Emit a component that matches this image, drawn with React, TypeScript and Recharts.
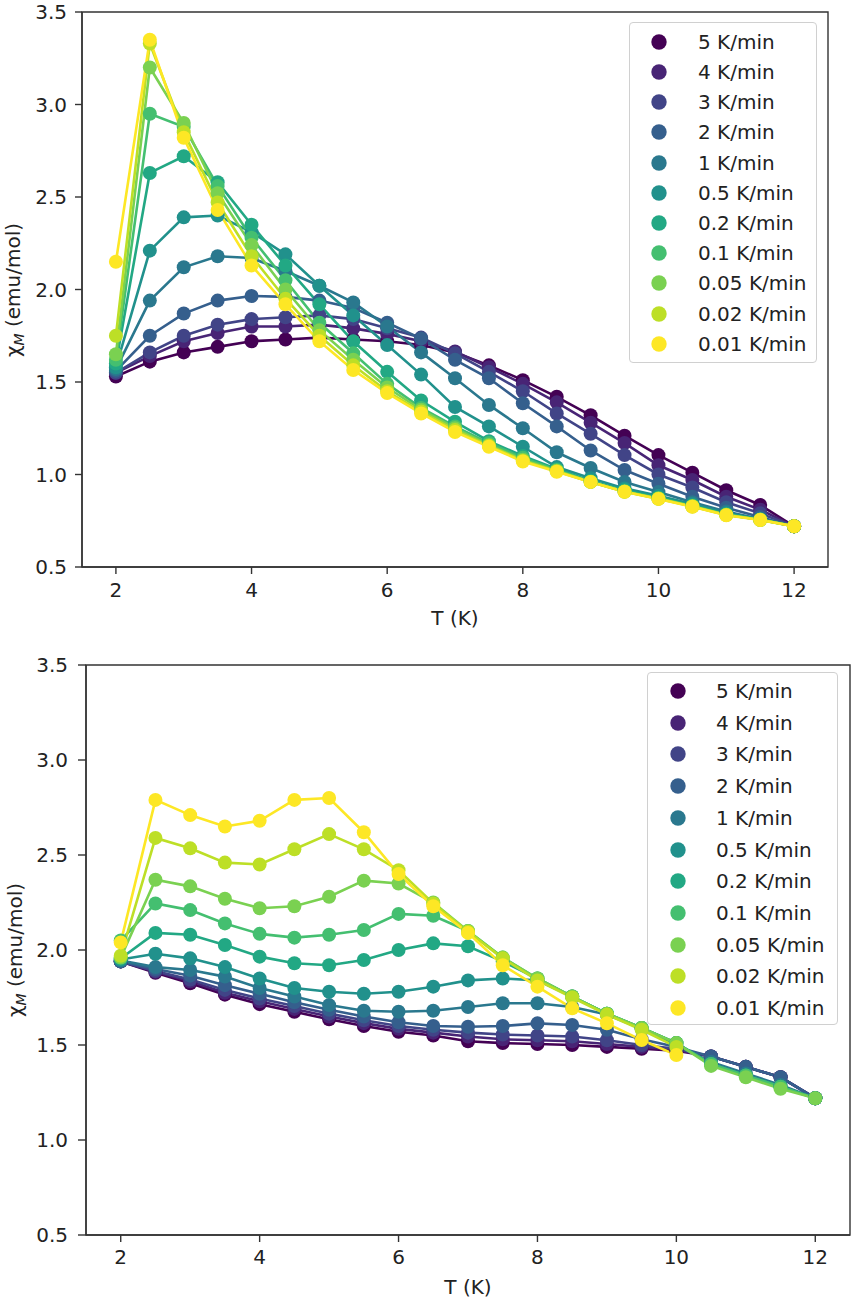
import React from 'react';
import { LineChart, Line, XAxis, YAxis, ReferenceArea } from 'recharts';

const temps = [2, 2.5, 3, 3.5, 4, 4.5, 5, 5.5, 6, 6.5, 7, 7.5, 8, 8.5, 9, 9.5, 10, 10.5, 11, 11.5, 12];
const rateLabels = ['5 K/min', '4 K/min', '3 K/min', '2 K/min', '1 K/min', '0.5 K/min', '0.2 K/min', '0.1 K/min', '0.05 K/min', '0.02 K/min', '0.01 K/min'];
const viridis = ['#440154', '#482475', '#414487', '#355f8d', '#2a788e', '#21918c', '#22a884', '#44bf70', '#7ad151', '#bddf26', '#fde725'];
const xTicks = [2, 4, 6, 8, 10, 12];
const yTicks = [0.5, 1.0, 1.5, 2.0, 2.5, 3.0, 3.5];

// Top panel
const topR5 = [1.53, 1.61, 1.66, 1.69, 1.72, 1.73, 1.74, 1.73, 1.72, 1.70, 1.66, 1.59, 1.51, 1.42, 1.32, 1.21, 1.105, 1.01, 0.915, 0.835, 0.72];
const topR4 = [1.55, 1.64, 1.72, 1.765, 1.80, 1.80, 1.81, 1.79, 1.76, 1.72, 1.665, 1.58, 1.49, 1.39, 1.28, 1.17, 1.05, 0.97, 0.88, 0.81, 0.72];
const topR3 = [1.55, 1.66, 1.75, 1.81, 1.84, 1.85, 1.86, 1.84, 1.79, 1.74, 1.655, 1.555, 1.45, 1.33, 1.22, 1.105, 1.00, 0.93, 0.85, 0.79, 0.72];
const topR2 = [1.56, 1.75, 1.87, 1.94, 1.965, 1.96, 1.94, 1.90, 1.82, 1.735, 1.62, 1.52, 1.385, 1.26, 1.13, 1.024, 0.95, 0.88, 0.82, 0.77, 0.72];
const topR1 = [1.57, 1.94, 2.12, 2.18, 2.17, 2.10, 2.02, 1.93, 1.80, 1.66, 1.52, 1.376, 1.25, 1.12, 1.035, 0.96, 0.905, 0.85, 0.80, 0.76, 0.72];
const topR05 = [1.58, 2.21, 2.39, 2.40, 2.31, 2.19, 2.02, 1.86, 1.70, 1.54, 1.365, 1.26, 1.15, 1.04, 0.98, 0.925, 0.885, 0.84, 0.79, 0.758, 0.72];
const topR02 = [1.60, 2.63, 2.72, 2.58, 2.35, 2.13, 1.92, 1.72, 1.555, 1.40, 1.285, 1.18, 1.10, 1.03, 0.965, 0.915, 0.875, 0.832, 0.785, 0.756, 0.72];
const topR01 = [1.62, 2.95, 2.88, 2.56, 2.28, 2.05, 1.82, 1.655, 1.49, 1.36, 1.26, 1.17, 1.09, 1.025, 0.962, 0.91, 0.872, 0.83, 0.783, 0.755, 0.72];
const topR005 = [1.65, 3.20, 2.90, 2.52, 2.24, 2.00, 1.78, 1.62, 1.47, 1.35, 1.25, 1.16, 1.08, 1.02, 0.96, 0.908, 0.87, 0.828, 0.782, 0.755, 0.72];
const topR002 = [1.75, 3.33, 2.85, 2.47, 2.18, 1.95, 1.75, 1.59, 1.45, 1.34, 1.24, 1.155, 1.075, 1.018, 0.96, 0.907, 0.869, 0.827, 0.781, 0.755, 0.72];
const topR001 = [2.15, 3.35, 2.82, 2.43, 2.13, 1.92, 1.72, 1.565, 1.44, 1.33, 1.23, 1.15, 1.07, 1.015, 0.96, 0.907, 0.868, 0.826, 0.78, 0.754, 0.72];

// Bottom panel
const botR5 = [1.94, 1.88, 1.825, 1.765, 1.715, 1.675, 1.635, 1.60, 1.57, 1.55, 1.52, 1.51, 1.505, 1.50, 1.49, 1.48, 1.47, 1.44, 1.385, 1.33, 1.22];
const botR4 = [1.94, 1.885, 1.835, 1.775, 1.73, 1.69, 1.65, 1.615, 1.585, 1.565, 1.545, 1.53, 1.525, 1.52, 1.505, 1.49, 1.475, 1.44, 1.385, 1.33, 1.22];
const botR3 = [1.94, 1.89, 1.845, 1.79, 1.745, 1.705, 1.665, 1.63, 1.60, 1.58, 1.565, 1.555, 1.55, 1.545, 1.525, 1.50, 1.48, 1.44, 1.385, 1.33, 1.22];
const botR2 = [1.94, 1.90, 1.865, 1.815, 1.77, 1.725, 1.685, 1.65, 1.62, 1.60, 1.596, 1.60, 1.614, 1.605, 1.58, 1.53, 1.49, 1.44, 1.385, 1.33, 1.22];
const botR1 = [1.945, 1.91, 1.895, 1.86, 1.80, 1.755, 1.71, 1.68, 1.675, 1.68, 1.70, 1.72, 1.72, 1.70, 1.66, 1.585, 1.50, 1.41, 1.35, 1.29, 1.22];
const botR05 = [1.95, 1.98, 1.956, 1.91, 1.85, 1.80, 1.78, 1.77, 1.78, 1.807, 1.84, 1.85, 1.84, 1.755, 1.665, 1.59, 1.51, 1.40, 1.34, 1.28, 1.22];
const botR02 = [1.955, 2.09, 2.08, 2.026, 1.965, 1.93, 1.92, 1.947, 2.00, 2.035, 2.02, 1.94, 1.85, 1.755, 1.665, 1.59, 1.51, 1.40, 1.34, 1.28, 1.22];
const botR01 = [2.05, 2.245, 2.21, 2.14, 2.085, 2.065, 2.08, 2.105, 2.19, 2.18, 2.10, 1.96, 1.85, 1.755, 1.665, 1.59, 1.51, 1.40, 1.34, 1.28, 1.22];
const botR005 = [1.96, 2.37, 2.335, 2.27, 2.22, 2.23, 2.28, 2.365, 2.35, 2.25, 2.10, 1.96, 1.85, 1.755, 1.665, 1.59, 1.51, 1.39, 1.33, 1.27, 1.22];
const botR002 = [1.97, 2.59, 2.535, 2.46, 2.45, 2.53, 2.61, 2.53, 2.42, 2.245, 2.096, 1.956, 1.84, 1.75, 1.66, 1.58, 1.49, null, null, null, null];
const botR001 = [2.04, 2.79, 2.71, 2.65, 2.68, 2.79, 2.80, 2.62, 2.40, 2.23, 2.09, 1.92, 1.807, 1.693, 1.614, 1.526, 1.447, null, null, null, null];

const topSeries = [topR5, topR4, topR3, topR2, topR1, topR05, topR02, topR01, topR005, topR002, topR001];
const botSeries = [botR5, botR4, botR3, botR2, botR1, botR05, botR02, botR01, botR005, botR002, botR001];

const FONT = '"DejaVu Sans", sans-serif';
const INK = '#222';
const FS = 20;

function buildRows(series: (number | null)[][]) {
  return temps.map((t, i) => {
    const row: Record<string, number | null> = { T: t };
    series.forEach((s, k) => {
      row['s' + k] = s[i];
    });
    return row;
  });
}

type PanelProps = {
  series: (number | null)[][];
  top: number;
  height: number;
  margin: { top: number; right: number; bottom: number; left: number };
  yAxisWidth: number;
  xTickSize: number;
  xTickMargin: number;
  yTickSize: number;
  yTickMargin: number;
  xLabel: { x: number; y: number };
  yLabel: { x: number; y: number };
  legend: { left: number; top: number; width: number; height: number; first: number; step: number; markerX: number; textX: number };
};

function Panel(p: PanelProps) {
  const rows = buildRows(p.series);
  const tickStyle = { fontSize: FS, fill: INK, fontFamily: FONT };
  const axisLine = { stroke: '#333', strokeWidth: 1.4 };
  return (
    <div style={{ position: 'absolute', left: 0, top: p.top, width: 856, height: p.height }}>
      <LineChart width={856} height={p.height} data={rows} margin={p.margin}>
        <XAxis
          dataKey="T"
          type="number"
          domain={[1.5, 12.5]}
          ticks={xTicks}
          allowDataOverflow
          height={30}
          tickSize={p.xTickSize}
          tickMargin={p.xTickMargin}
          tick={tickStyle}
          axisLine={axisLine}
          tickLine={axisLine}
          label={{
            value: 'T (K)',
            content: () => (
              <text x={p.xLabel.x} y={p.xLabel.y} textAnchor="middle" fontSize={FS} fontFamily={FONT} fill={INK}>
                T (K)
              </text>
            ),
          }}
        />
        <YAxis
          type="number"
          domain={[0.5, 3.5]}
          ticks={yTicks}
          allowDataOverflow
          width={p.yAxisWidth}
          tickSize={p.yTickSize}
          tickMargin={p.yTickMargin}
          tick={tickStyle}
          tickFormatter={(v: number) => v.toFixed(1)}
          axisLine={axisLine}
          tickLine={axisLine}
          label={{
            value: 'χM (emu/mol)',
            content: () => (
              <text
                x={p.yLabel.x}
                y={p.yLabel.y}
                textAnchor="middle"
                fontSize={FS}
                fontFamily={FONT}
                fill={INK}
                transform={`rotate(-90 ${p.yLabel.x} ${p.yLabel.y})`}
              >
                <tspan>χ</tspan>
                <tspan fontSize={14} fontStyle="italic" dy={4}>M</tspan>
                <tspan dy={-4}> (emu/mol)</tspan>
              </text>
            ),
          }}
        />
        <ReferenceArea x1={1.5} x2={12.5} y1={0.5} y2={3.5} fill="none" fillOpacity={0} stroke="#333" strokeWidth={1.4} />
        {p.series.map((_, k) => (
          <Line
            key={k}
            dataKey={'s' + k}
            name={rateLabels[k]}
            stroke={viridis[k]}
            strokeWidth={2.6}
            dot={{ r: 7, fill: viridis[k], stroke: viridis[k], strokeWidth: 0 }}
            activeDot={false}
            isAnimationActive={false}
            type="linear"
          />
        ))}
      </LineChart>
      <div
        style={{
          position: 'absolute',
          left: p.legend.left,
          top: p.legend.top - p.top,
          width: p.legend.width,
          height: p.legend.height,
          border: '1px solid #d0d0d0',
          borderRadius: 4,
          background: 'rgba(255,255,255,0.85)',
          boxSizing: 'border-box',
          fontFamily: FONT,
          fontSize: FS,
          color: INK,
        }}
      >
        {rateLabels.map((lab, k) => {
          const cy = p.legend.first + k * p.legend.step;
          return (
            <div key={lab} style={{ position: 'absolute', left: 0, top: cy - 12, height: 24, width: '100%' }}>
              <svg width={18} height={18} style={{ position: 'absolute', left: p.legend.markerX - 9, top: 3 }}>
                <circle cx={9} cy={9} r={7.7} fill={viridis[k]} />
              </svg>
              <span style={{ position: 'absolute', left: p.legend.textX, top: 0, lineHeight: '24px', whiteSpace: 'nowrap' }}>{lab}</span>
            </div>
          );
        })}
      </div>
    </div>
  );
}

export default function App() {
  return (
    <div style={{ position: 'absolute', left: 0, top: 0, width: 856, height: 1302, background: '#fff' }}>
      <Panel
        series={topSeries}
        top={0}
        height={640}
        margin={{ top: 12, right: 28, bottom: 43, left: 0 }}
        yAxisWidth={82}
        xTickSize={7}
        xTickMargin={9}
        yTickSize={7}
        yTickMargin={8}
        xLabel={{ x: 455, y: 625 }}
        yLabel={{ x: 20, y: 290 }}
        legend={{ left: 629, top: 22, width: 188, height: 341, first: 18.7, step: 30.2, markerX: 29, textX: 68 }}
      />
      <Panel
        series={botSeries}
        top={640}
        height={662}
        margin={{ top: 25, right: 6, bottom: 37, left: 0 }}
        yAxisWidth={86}
        xTickSize={7}
        xTickMargin={8}
        yTickSize={8}
        yTickMargin={10}
        xLabel={{ x: 468, y: 654 }}
        yLabel={{ x: 22, y: 310 }}
        legend={{ left: 647, top: 672, width: 191, height: 353, first: 18, step: 31.7, markerX: 30, textX: 68 }}
      />
    </div>
  );
}
